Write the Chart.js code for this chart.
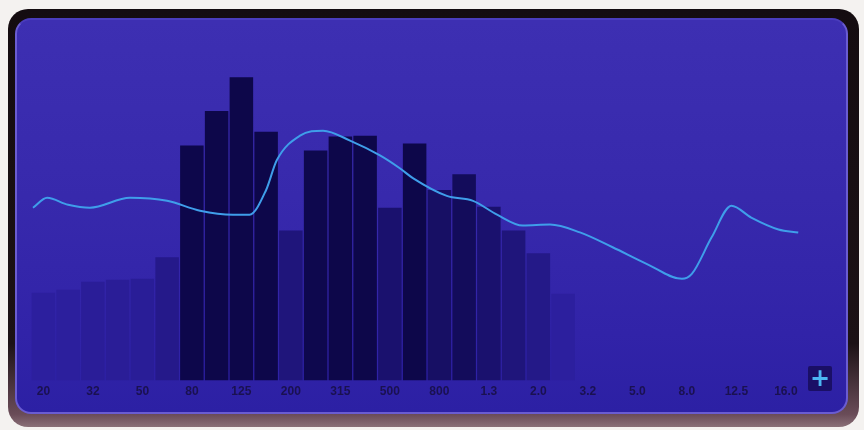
<!DOCTYPE html>
<html>
<head>
<meta charset="utf-8">
<script src="https://cdn.jsdelivr.net/npm/chart.js@4"></script>
<style>
  html, body { margin: 0; padding: 0; background: #f4f2f0; }
  #wrap { position: relative; width: 864px; height: 430px; overflow: hidden; }
  #frame {
    position: absolute; left: 8px; top: 9px; width: 851px; height: 418px;
    border-radius: 20px;
    background: linear-gradient(to bottom, #140c10 0%, #1c1216 80%, #6a4c58 97%, #8a7078 100%);
  }
  #panel {
    position: absolute; left: 15px; top: 18px; width: 833px; height: 396px;
    border-radius: 16px;
    box-sizing: border-box;
    border: 2px solid #6a5cd2;
    border-top-color: #4a3cbc;
    background: linear-gradient(to bottom, #3d2fb2 0%, #3729ac 45%, #3123a8 80%, #2c20a4 100%);
  }
  #plus {
    position: absolute; left: 808px; top: 366px; width: 24px; height: 25px;
    background: #1a0f66; border-radius: 2px;
    color: #4cb6f2; font: bold 24px "DejaVu Sans", sans-serif;
    line-height: 25px; text-align: center;
  }
  canvas { position: absolute; left: 0; top: 0; }
</style>
</head>
<body>
<div id="wrap">
  <div id="frame"></div>
  <div id="panel"></div>
  <canvas id="c" width="864" height="430"></canvas>
  <div id="plus">+</div>
</div>
<script>
// Frequency tick labels (one per two bands)
const tickLabels = ["20","32","50","80","125","200","315","500","800","1.3","2.0","3.2","5.0","8.0","12.5","16.0"];
// Spectrum band levels (32 bands, later bands empty)
const bandLevels = [89, 92, 100, 102, 103, 125, 238, 273, 307, 252, 152, 233, 247, 248, 175, 240, 193, 209, 176, 152, 129, 88];
// EQ curve: band position and level
const curvePos = [-0.42, 0.15, 1, 1.88, 3.5, 5, 6.33, 7.66, 8.33, 9, 9.43, 10.37, 11.3, 12.39, 13.6, 14.4, 14.93, 16.3, 17.36, 18.33, 19.37, 20.47, 21.68, 23, 24.39, 25.8, 26.2, 27, 27.8, 28.6, 29.7, 30.5];
const curveLevel = [175, 185, 178, 175, 185, 182, 172, 168, 168, 193, 223, 248, 253, 243, 228, 215, 205, 187, 182, 168, 157, 158, 150, 135, 118, 103, 108, 145, 177, 165, 153, 150];

const categories = [];
tickLabels.forEach(t => { categories.push(t); categories.push(""); });

function barColor(v) {
  const t = Math.max(0, Math.min(1, (v - 90) / 150));
  const a = [0x2c, 0x1f, 0x9e], b = [0x0d, 0x07, 0x4a];
  const c = a.map((x, i) => Math.round(x + (b[i] - x) * t));
  return `rgb(${c[0]},${c[1]},${c[2]})`;
}

new Chart(document.getElementById('c'), {
  data: {
    labels: categories,
    datasets: [
      {
        type: 'line',
        xAxisID: 'xl',
        data: curvePos.map((p, i) => ({ x: p, y: curveLevel[i] })),
        borderColor: '#3f9eea',
        borderWidth: 2,
        pointRadius: 0,
        tension: 0.4,
        cubicInterpolationMode: 'monotone',
        order: 0
      },
      {
        type: 'bar',
        xAxisID: 'x',
        data: bandLevels,
        backgroundColor: bandLevels.map(barColor),
        barPercentage: 0.95,
        categoryPercentage: 1.0,
        grouped: false,
        order: 1
      }
    ]
  },
  options: {
    responsive: false,
    devicePixelRatio: 1,
    animation: false,
    layout: { padding: { left: 31, right: 41, top: 25, bottom: 27 } },
    plugins: { legend: { display: false }, tooltip: { enabled: false } },
    scales: {
      x: {
        type: 'category',
        offset: true,
        grid: { display: false, drawTicks: false },
        border: { display: false },
        ticks: {
          autoSkip: false, maxRotation: 0, padding: 4,
          color: '#1a1150',
          font: { family: 'Liberation Sans', weight: 'bold', size: 12 },
          callback: (v, i) => (i % 2 === 0 ? categories[i] : '')
        }
      },
      xl: { type: 'linear', min: -0.5, max: 31.5, display: false },
      y: { min: 0, max: 360, display: false }
    }
  }
});
</script>
</body>
</html>
